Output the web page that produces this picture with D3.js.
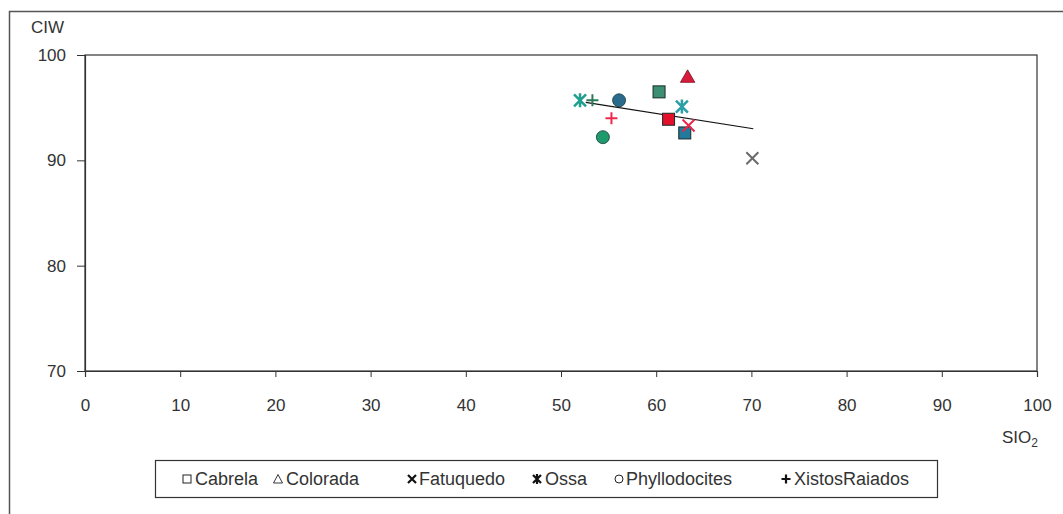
<!DOCTYPE html>
<html><head><meta charset="utf-8">
<script src="https://cdn.jsdelivr.net/npm/d3@7"></script>
<style>
body{margin:0;background:#fff;}
svg text{font-family:"Liberation Sans",Arial,sans-serif;fill:#333;}
</style></head><body>
<svg id="c" width="1063" height="514"></svg>
<script>
// ---- data ----
const seriesNames = ["Cabrela","Colorada","Fatuquedo","Ossa","Phyllodocites","XistosRaiados"];
const cabrelaX = [60.3, 61.3, 63.0];
const cabrelaY = [96.5, 93.9, 92.6];
const coloradaX = [63.3];
const coloradaY = [97.8];
const fatuquedoX = [70.1, 63.4];
const fatuquedoY = [90.2, 93.3];
const ossaX = [52.0, 62.7];
const ossaY = [95.7, 95.1];
const phylloX = [56.1, 54.4];
const phylloY = [95.7, 92.2];
const xistosX = [53.3, 55.3];
const xistosY = [95.7, 94.0];
const trendX = [52.6, 70.2];
const trendY = [95.5, 93.0];
const xTicks = [0,10,20,30,40,50,60,70,80,90,100];
const yTicks = [70,80,90,100];

// ---- styles ----
const cabrelaColors = ["#3d8f74","#e3102c","#23799c"];
const coloradaColors = ["#d81a3c"];
const fatuquedoColors = ["#6a6a6a","#e8284a"];
const ossaColors = ["#1f9f8f","#2a9fa8"];
const phylloColors = ["#2a6b8c","#1f9a6c"];
const xistosColors = ["#2a7a5a","#f0284c"];

const svg = d3.select("#c");
const m = {l:85, r:1037, t:55, b:371};
const x = d3.scaleLinear().domain([0,100]).range([m.l, m.r]);
const y = d3.scaleLinear().domain([70,100]).range([m.b, m.t]);
const FF = "Liberation Sans, Arial, sans-serif";

// outer border
svg.append("path").attr("d", `M9.5,514 V11.5 H1063`).attr("fill","none").attr("stroke","#555").attr("stroke-width",1.5);

// plot area frame
svg.append("rect").attr("x",m.l).attr("y",m.t).attr("width",m.r-m.l).attr("height",m.b-m.t)
  .attr("fill","none").attr("stroke","#333").attr("stroke-width",1.2);

// axes
const xAxis = d3.axisBottom(x).tickValues(xTicks).tickSize(6).tickPadding(22);
const gx = svg.append("g").attr("transform",`translate(0,${m.b})`).call(xAxis);
gx.select(".domain").attr("stroke","#333").attr("stroke-width",1.2);
gx.selectAll("line").attr("stroke","#333");
gx.selectAll("text").attr("font-size",17).style("font-family",FF).attr("fill","#333");

const yAxis = d3.axisLeft(y).tickValues(yTicks).tickSize(8).tickPadding(11);
const gy = svg.append("g").attr("transform",`translate(${m.l},0)`).call(yAxis);
gy.select(".domain").attr("stroke","#333").attr("stroke-width",1.2);
gy.selectAll("line").attr("stroke","#333");
gy.selectAll("text").attr("font-size",17).style("font-family",FF).attr("fill","#333");

// axis titles
svg.append("text").attr("x",31).attr("y",33).attr("font-size",17).text("CIW");
const st = svg.append("text").attr("x",1002).attr("y",443).attr("font-size",17);
st.append("tspan").text("SIO");
st.append("tspan").attr("font-size",12).attr("dy",4).text("2");

// trend line
svg.append("line").attr("x1",x(trendX[0])).attr("y1",y(trendY[0])).attr("x2",x(trendX[1])).attr("y2",y(trendY[1]))
  .attr("stroke","#111").attr("stroke-width",1.2);

const g = svg.append("g");
function pts(xs, ys){ return xs.map((v,i)=>({x:v,y:ys[i],i})); }

// Cabrela squares
g.selectAll(".cab").data(pts(cabrelaX,cabrelaY)).join("rect")
  .attr("x",d=>x(d.x)-6).attr("y",d=>y(d.y)-6).attr("width",12).attr("height",12)
  .attr("fill",d=>cabrelaColors[d.i]).attr("stroke","#1a2a2a").attr("stroke-width",1);
// Colorada triangles
g.selectAll(".col").data(pts(coloradaX,coloradaY)).join("path")
  .attr("transform",d=>`translate(${x(d.x)},${y(d.y)})`)
  .attr("d",d3.symbol(d3.symbolTriangle, 90)())
  .attr("fill",d=>coloradaColors[d.i]).attr("stroke","#7a1020").attr("stroke-width",0.8);
// Fatuquedo X
g.selectAll(".fat").data(pts(fatuquedoX,fatuquedoY)).join("path")
  .attr("transform",d=>`translate(${x(d.x)},${y(d.y)})`)
  .attr("d","M-6,-6L6,6M-6,6L6,-6")
  .attr("fill","none").attr("stroke",d=>fatuquedoColors[d.i]).attr("stroke-width",2);
// Ossa asterisks
g.selectAll(".oss").data(pts(ossaX,ossaY)).join("path")
  .attr("transform",d=>`translate(${x(d.x)},${y(d.y)})`)
  .attr("d","M-6,-6L6,6M-6,6L6,-6M0,-7L0,7")
  .attr("fill","none").attr("stroke",d=>ossaColors[d.i]).attr("stroke-width",2.5);
// Phyllodocites circles
g.selectAll(".phy").data(pts(phylloX,phylloY)).join("circle")
  .attr("cx",d=>x(d.x)).attr("cy",d=>y(d.y)).attr("r",6.5)
  .attr("fill",d=>phylloColors[d.i]).attr("stroke","#1a3a3a").attr("stroke-width",0.8);
// Xistos plus
g.selectAll(".xis").data(pts(xistosX,xistosY)).join("path")
  .attr("transform",d=>`translate(${x(d.x)},${y(d.y)})`)
  .attr("d","M-6,0L6,0M0,-6L0,6")
  .attr("fill","none").attr("stroke",d=>xistosColors[d.i]).attr("stroke-width",2);

// legend
svg.append("rect").attr("x",155.5).attr("y",460.5).attr("width",782).attr("height",37)
  .attr("fill","#fff").attr("stroke","#333").attr("stroke-width",1.2);
const legSym = [187, 278, 412, 537, 619, 786];
const legTxt = [195, 286, 419, 545, 626, 794];
const ly = 479;
const lg = svg.append("g");
seriesNames.forEach((n,i)=>{
  const s = lg.append("g").attr("transform",`translate(${legSym[i]},${ly})`);
  if(i===0) s.append("rect").attr("x",-4).attr("y",-4).attr("width",8).attr("height",8).attr("fill","none").attr("stroke","#222");
  if(i===1) s.append("path").attr("d","M0,-4.5L4.5,4L-4.5,4Z").attr("fill","none").attr("stroke","#222").attr("stroke-width",0.9);
  if(i===2) s.append("path").attr("d","M-4,-4L4,4M-4,4L4,-4").attr("stroke","#111").attr("stroke-width",2.2);
  if(i===3) s.append("path").attr("d","M-4,-4L4,4M-4,4L4,-4M0,-5L0,5").attr("stroke","#111").attr("stroke-width",2.2);
  if(i===4) s.append("circle").attr("r",4).attr("fill","none").attr("stroke","#222");
  if(i===5) s.append("path").attr("d","M-4.5,0L4.5,0M0,-4.5L0,4.5").attr("stroke","#111").attr("stroke-width",2.2);
  lg.append("text").attr("x",legTxt[i]).attr("y",ly+6).attr("font-size",18).text(n);
});
</script>
</body></html>
